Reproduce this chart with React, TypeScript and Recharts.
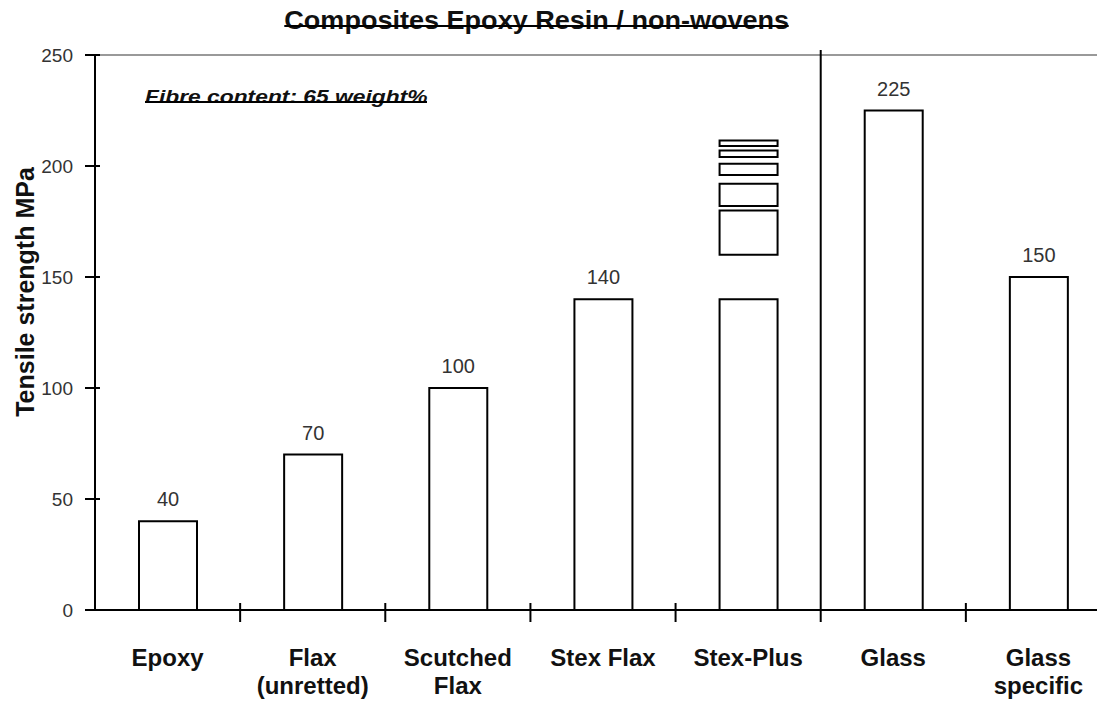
import { BarChart, Bar, XAxis, YAxis, LabelList, ReferenceLine } from 'recharts'

const categories = ['Epoxy', 'Flax\n(unretted)', 'Scutched\nFlax', 'Stex Flax', 'Stex-Plus', 'Glass', 'Glass\nspecific']
const strength = [40, 70, 100, 140, 140, 225, 150]
const labelled = [true, true, true, true, false, true, true]
// extra boxes stacked above the Stex-Plus bar, [from, to] in MPa
const stexPlusBoxes: [number, number][] = [[160, 180], [182, 192], [196, 201], [204, 207], [209, 211.5]]
const yTicks = [0, 50, 100, 150, 200, 250]

const W = 1120
const H = 704
const M = { top: 55, right: 9, bottom: 94, left: 95 }
const PLOT_W = W - M.left - M.right
const PLOT_H = H - M.top - M.bottom
const BAND = PLOT_W / categories.length
const DIVIDER_INDEX = 5
const FONT = '"Liberation Sans", Arial, sans-serif'
const INK = '#111'

const data = categories.map((name, i) => {
  const row: Record<string, string | number | null> = {
    name,
    base: strength[i],
    label: labelled[i] ? strength[i] : null,
  }
  let prev = strength[i]
  stexPlusBoxes.forEach(([from, to], k) => {
    const on = name === 'Stex-Plus'
    row[`gap${k}`] = on ? from - prev : 0
    row[`box${k}`] = on ? to - from : 0
    prev = to
  })
  return row
})

function CategoryTick({ x, y, payload, index }: any) {
  const lines = String(payload.value).split('\n')
  const left = x - BAND / 2
  return (
    <g>
      {index === DIVIDER_INDEX ? (
        <line x1={left} x2={left} y1={y + 12} y2={y - PLOT_H - 5} stroke="#000" strokeWidth={2} />
      ) : index > 0 ? (
        <line x1={left} x2={left} y1={y - 7} y2={y + 12} stroke="#000" strokeWidth={2} />
      ) : null}
      <text textAnchor="middle" fontFamily={FONT} fontSize={24} fontWeight={700} fill={INK}>
        {lines.map((l, i) => (
          <tspan key={i} x={x} y={y + 56 + i * 28}>{l}</tspan>
        ))}
      </text>
    </g>
  )
}

function ValueTick({ x, y, payload }: any) {
  return (
    <g>
      <line x1={x - 10} x2={x + 5} y1={y} y2={y} stroke="#000" strokeWidth={2} />
      <text x={x - 22} y={y + 7} textAnchor="end" fontFamily={FONT} fontSize={19} fill="#333">
        {payload.value}
      </text>
    </g>
  )
}

function ValueLabel({ x, y, width, value }: any) {
  if (value == null) return null
  return (
    <text x={x + width / 2} y={y - 15} textAnchor="middle" fontFamily={FONT} fontSize={20} fill="#333">
      {value}
    </text>
  )
}

function Struck({ children, style, lineBottom }: { children: string; style: React.CSSProperties; lineBottom: number }) {
  return (
    <span style={{ position: 'relative', display: 'inline-block', ...style }}>
      {children}
      <span style={{ position: 'absolute', left: 0, right: 0, bottom: lineBottom, height: 2, background: '#000' }} />
    </span>
  )
}

export default function App() {
  return (
    <div style={{ position: 'fixed', left: 0, top: 0, width: 1097, height: 704, overflow: 'hidden', background: '#fff', fontFamily: FONT }}>
      <div style={{ position: 'absolute', left: 0, width: 1074, top: 7, textAlign: 'center' }}>
        <Struck lineBottom={6} style={{ fontSize: 26, fontWeight: 700, lineHeight: '26px', color: INK, transform: 'scaleX(1.04)' }}>
          Composites Epoxy Resin / non-wovens
        </Struck>
      </div>
      <div style={{ position: 'absolute', left: 145, top: 87, transformOrigin: '0 0', transform: 'scaleX(1.2)' }}>
        <Struck lineBottom={3} style={{ fontSize: 19, fontWeight: 700, fontStyle: 'italic', lineHeight: '19px', color: INK }}>
          Fibre content: 65 weight%
        </Struck>
      </div>
      <div
        style={{
          position: 'absolute', left: 25, top: 292, transform: 'translate(-50%, -50%) rotate(-90deg)',
          whiteSpace: 'nowrap', fontSize: 25, fontWeight: 700, color: INK,
        }}
      >
        Tensile strength MPa
      </div>
      <BarChart width={W} height={H} data={data} margin={{ top: M.top, right: M.right, bottom: 0, left: 0 }} barSize={58}>
        <ReferenceLine y={250} stroke="#999" strokeWidth={2} />
        <XAxis
          dataKey="name"
          height={M.bottom}
          interval={0}
          tickLine={false}
          tickSize={0}
          tickMargin={0}
          axisLine={{ stroke: '#000', strokeWidth: 2 }}
          tick={CategoryTick}
        />
        <YAxis
          width={M.left}
          domain={[0, 250]}
          ticks={yTicks}
          interval={0}
          tickLine={false}
          tickSize={0}
          tickMargin={0}
          axisLine={{ stroke: '#000', strokeWidth: 2 }}
          tick={ValueTick}
        />
        <Bar dataKey="base" stackId="s" fill="#fff" stroke="#000" strokeWidth={2} isAnimationActive={false}>
          <LabelList dataKey="label" content={ValueLabel} />
        </Bar>
        {stexPlusBoxes.flatMap((_, k) => [
          <Bar key={`gap${k}`} dataKey={`gap${k}`} stackId="s" fill="none" stroke="none" isAnimationActive={false} />,
          <Bar key={`box${k}`} dataKey={`box${k}`} stackId="s" fill="#fff" stroke="#000" strokeWidth={2} isAnimationActive={false} />,
        ])}
      </BarChart>
    </div>
  )
}
